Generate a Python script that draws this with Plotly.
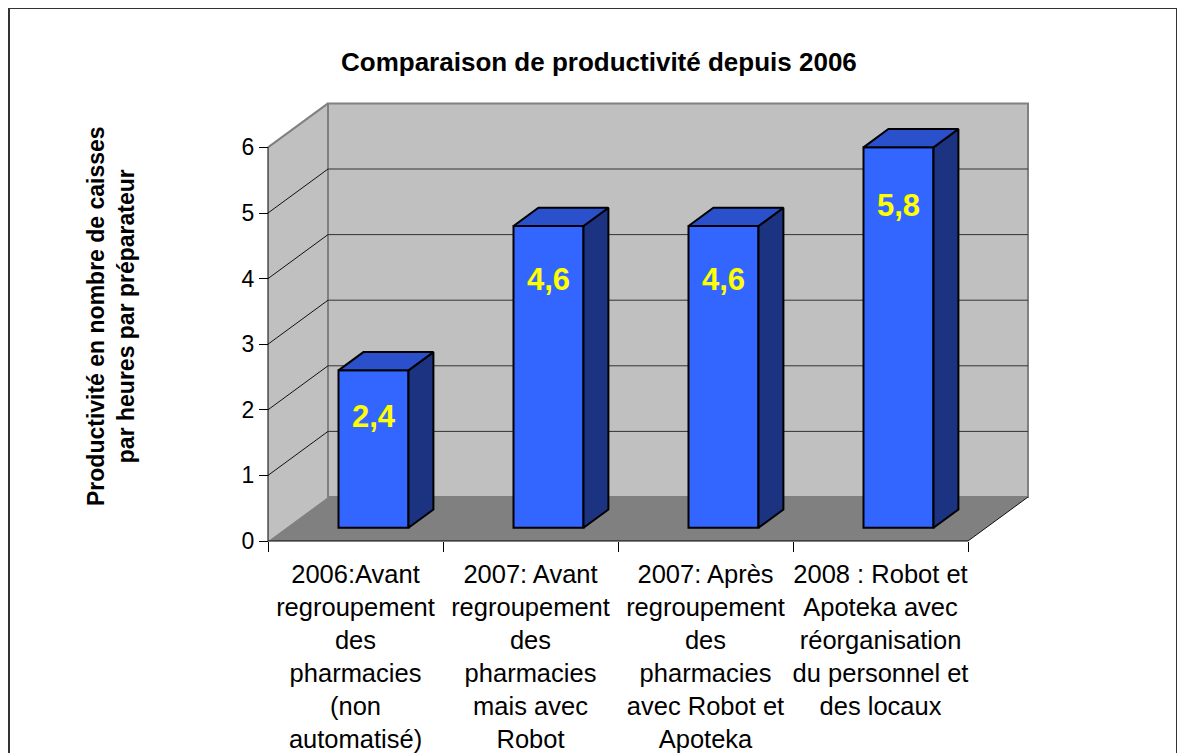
import plotly.graph_objects as go

# ---------------- data ----------------
categories = [
    "2006:Avant<br>regroupement<br>des<br>pharmacies<br>(non<br>automatisé)",
    "2007: Avant<br>regroupement<br>des<br>pharmacies<br>mais avec<br>Robot",
    "2007: Après<br>regroupement<br>des<br>pharmacies<br>avec Robot et<br>Apoteka",
    "2008 : Robot et<br>Apoteka avec<br>réorganisation<br>du personnel et<br>des locaux",
]
values = [2.4, 4.6, 4.6, 5.8]
value_labels = ["2,4", "4,6", "4,6", "5,8"]
y_ticks = [0, 1, 2, 3, 4, 5, 6]
title_text = "Comparaison de productivité depuis 2006"
y_title = "Productivité en nombre de caisses<br>par heures par préparateur"

# ---------------- layout geometry ----------------
W, H = 1185, 753
OFF = 8                            # page body margin offset
X0_PX, Y0_PX = 268 - OFF, 541 - OFF   # front-left-bottom corner of the 3D box
PX_PER_CAT = 175
PX_PER_UNIT = 65.6
DEPTH_PX = (60, 44)               # oblique depth offset of the box
N = len(categories)
YMAX = max(y_ticks)

DX = DEPTH_PX[0] / PX_PER_CAT
DY = DEPTH_PX[1] / PX_PER_UNIT
x_range = [-X0_PX / PX_PER_CAT, (W - X0_PX) / PX_PER_CAT]
y_range = [-(H - Y0_PX) / PX_PER_UNIT, Y0_PX / PX_PER_UNIT]


def fx(px):
    return (px - OFF) / W


def fy(py):
    return 1 - (py - OFF) / H


Z_FRONT, Z_BACK = 0.30, 0.715     # bar depth (fraction of box depth)
BAR_W = 0.4

FONT = "Arial, Liberation Sans, sans-serif"
FRONT_C, TOP_C, SIDE_C = "#3366FF", "#2A50CC", "#1B3381"
WALL_C, FLOOR_C, EDGE_C = "#C0C0C0", "#808080", "#808080"

shapes = []


def poly(pts, fill, line_color=None, width=0):
    path = "M " + " L ".join(f"{x},{y}" for x, y in pts) + " Z"
    shapes.append(dict(type="path", path=path, xref="x", yref="y",
                       fillcolor=fill, layer="below",
                       line=dict(color=line_color or fill, width=width)))


def seg(p, q, color, width=1):
    shapes.append(dict(type="line", xref="x", yref="y", x0=p[0], y0=p[1],
                       x1=q[0], y1=q[1], layer="below",
                       line=dict(color=color, width=width)))


# outer frame
shapes.append(dict(type="rect", xref="paper", yref="paper",
                   x0=fx(9), x1=fx(1177), y0=-0.05, y1=fy(8),
                   line=dict(color="#333333", width=2), fillcolor="rgba(0,0,0,0)",
                   layer="below"))
# back wall
poly([(DX, DY), (N + DX, DY), (N + DX, YMAX + DY), (DX, YMAX + DY)], WALL_C, EDGE_C, 2)
# side wall
poly([(0, 0), (DX, DY), (DX, YMAX + DY), (0, YMAX)], WALL_C)
seg((0, YMAX), (DX, YMAX + DY), EDGE_C, 2)
seg((DX, DY), (DX, YMAX + DY), EDGE_C, 2)
# floor
poly([(0, 0), (N, 0), (N + DX, DY), (DX, DY)], FLOOR_C)
seg((N, 0), (N + DX, DY), "#111111", 1)
# gridlines
for k in y_ticks[1:-1]:
    seg((0, k), (DX, k + DY), "#111111", 1)
    seg((DX, k + DY), (N + DX, k + DY), "#333333", 1)
# axis lines
seg((0, 0), (0, YMAX), "#000000", 1)
seg((0, 0), (N, 0), "#000000", 1)

fig = go.Figure()

# bars: side and top faces
base = Z_FRONT * DY
dz = Z_BACK - Z_FRONT
front_x = [i + 0.5 + Z_FRONT * DX for i in range(N)]
for cx, v in zip(front_x, values):
    L, R = cx - BAR_W / 2, cx + BAR_W / 2
    top = base + v
    ox, oy = dz * DX, dz * DY
    side = [(R, base), (R + ox, base + oy), (R + ox, top + oy), (R, top), (R, base)]
    topf = [(L, top), (R, top), (R + ox, top + oy), (L + ox, top + oy), (L, top)]
    for pts, col in ((side, SIDE_C), (topf, TOP_C)):
        fig.add_trace(go.Scatter(
            x=[p[0] for p in pts], y=[p[1] for p in pts], mode="lines",
            fill="toself", fillcolor=col, line=dict(color="#000000", width=2),
            hoverinfo="skip", showlegend=False))

# bars: front faces
fig.add_trace(go.Bar(
    x=front_x, y=values, base=base, width=BAR_W,
    marker=dict(color=FRONT_C, line=dict(color="#000000", width=2)),
    hoverinfo="skip", showlegend=False))

# value labels
label_y = [base + 0.946 * v - 0.61 for v in values]
fig.add_trace(go.Scatter(
    x=front_x, y=label_y, mode="text",
    text=[f"<b>{t}</b>" for t in value_labels],
    textfont=dict(family=FONT, size=31, color="#FFFF00"),
    textposition="middle center", hoverinfo="skip", showlegend=False))

fig.update_layout(
    width=W, height=H,
    margin=dict(l=0, r=0, t=0, b=0),
    paper_bgcolor="white", plot_bgcolor="rgba(0,0,0,0)",
    showlegend=False,
    shapes=shapes,
    barmode="overlay",
    xaxis=dict(
        range=x_range, anchor="free", position=(H - Y0_PX) / H,
        showgrid=False, zeroline=False, showline=False, automargin=False,
        tickmode="array", tickvals=[i + 0.5 for i in range(N)],
        ticktext=categories, ticks="", ticklabelstandoff=15,
        tickfont=dict(family=FONT, size=25.5, color="#000000"),
        minor=dict(tickmode="array", tickvals=list(range(N + 1)),
                   ticks="outside", ticklen=10, tickcolor="#000000",
                   tickwidth=1, showgrid=False),
    ),
    yaxis=dict(
        range=y_range, anchor="free", position=X0_PX / W,
        showgrid=False, zeroline=False, showline=False, automargin=False,
        tickmode="array", tickvals=y_ticks, ticks="outside", ticklen=9,
        tickcolor="#000000", tickwidth=1,
        tickfont=dict(family=FONT, size=23, color="#000000"),
    ),
    annotations=[
        dict(text=f"<b>{title_text}</b>", xref="paper", yref="paper",
             x=fx(599), y=fy(62), xanchor="center", yanchor="middle",
             showarrow=False, font=dict(family=FONT, size=26, color="#000000")),
        dict(text=f"<b>{y_title}</b>", xref="paper", yref="paper",
             x=fx(111), y=fy(316), xanchor="center", yanchor="middle",
             textangle=-90, showarrow=False,
             font=dict(family=FONT, size=23, color="#000000")),
    ],
)

fig.write_html("out.html")
